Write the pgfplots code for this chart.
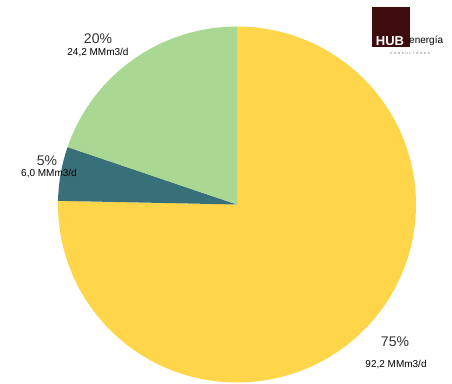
\documentclass[border=0pt]{standalone}
\usepackage{fontspec}
\setmainfont{Liberation Sans}
\usepackage{pgfplots}
\pgfplotsset{compat=1.18}
\definecolor{pieyellow}{RGB}{255,213,73}
\definecolor{piegreen}{RGB}{170,216,146}
\definecolor{pieteal}{RGB}{56,112,122}
\definecolor{logored}{RGB}{62,12,12}
% data (MMm3/d)
\def\vA{92.2}% yellow
\def\vB{6.0}% teal
\def\vC{24.2}% green
\pgfmathsetmacro\vT{\vA+\vB+\vC}
\pgfmathsetmacro\aA{90-360*(\vA/\vT)}
\pgfmathsetmacro\aB{\aA-360*(\vB/\vT)}
\pgfmathsetmacro\aC{\aB-360*(\vC/\vT)}
\def\cx{237}\def\cy{179.5}\def\rx{179}\def\ry{178}
\begin{document}
\begin{tikzpicture}
\begin{axis}[
  scale only axis, width=452bp, height=384bp,
  xmin=0, xmax=452, ymin=0, ymax=384,
  hide axis, clip=true,
]
\addplot[draw=none, fill=pieyellow, domain=\aA:90, samples=240, variable=\t]
  ({\cx+\rx*cos(t)},{\cy+\ry*sin(t)}) -- (axis cs:\cx,\cy) -- cycle;
\addplot[draw=none, fill=pieteal, domain=\aB:\aA, samples=30, variable=\t]
  ({\cx+\rx*cos(t)},{\cy+\ry*sin(t)}) -- (axis cs:\cx,\cy) -- cycle;
\addplot[draw=none, fill=piegreen, domain=\aC:\aB, samples=90, variable=\t]
  ({\cx+\rx*cos(t)},{\cy+\ry*sin(t)}) -- (axis cs:\cx,\cy) -- cycle;
% labels
\node[font=\fontsize{14bp}{16bp}\selectfont, text=black!80] at (axis cs:98,345) {20\%};
\node[font=\fontsize{10bp}{12bp}\selectfont] at (axis cs:98,331) {24,2 MMm3/d};
\node[font=\fontsize{14bp}{16bp}\selectfont, text=black!80] at (axis cs:47,223) {5\%};
\node[font=\fontsize{10bp}{12bp}\selectfont] at (axis cs:49,210) {6,0 MMm3/d};
\node[font=\fontsize{14bp}{16bp}\selectfont, text=black!80] at (axis cs:395,42) {75\%};
\node[font=\fontsize{10bp}{12bp}\selectfont] at (axis cs:396,19) {92,2 MMm3/d};
% logo
\fill[logored] (axis cs:372,377) rectangle (axis cs:410,337);
\node[font=\fontsize{13bp}{14bp}\selectfont\bfseries, text=white, inner sep=0pt] at (axis cs:390,343) {HUB};
\node[font=\fontsize{10bp}{11bp}\selectfont, anchor=west, inner sep=0pt] at (axis cs:409,343) {energía};
\node[font=\fontsize{3bp}{3bp}\selectfont, text=black!60, inner sep=0pt] at (axis cs:410,331) {C\ \ O\ \ N\ \ S\ \ U\ \ L\ \ T\ \ O\ \ R\ \ E\ \ S};
\end{axis}
\useasboundingbox (current axis.south west) rectangle (current axis.north east);
\end{tikzpicture}
\end{document}
